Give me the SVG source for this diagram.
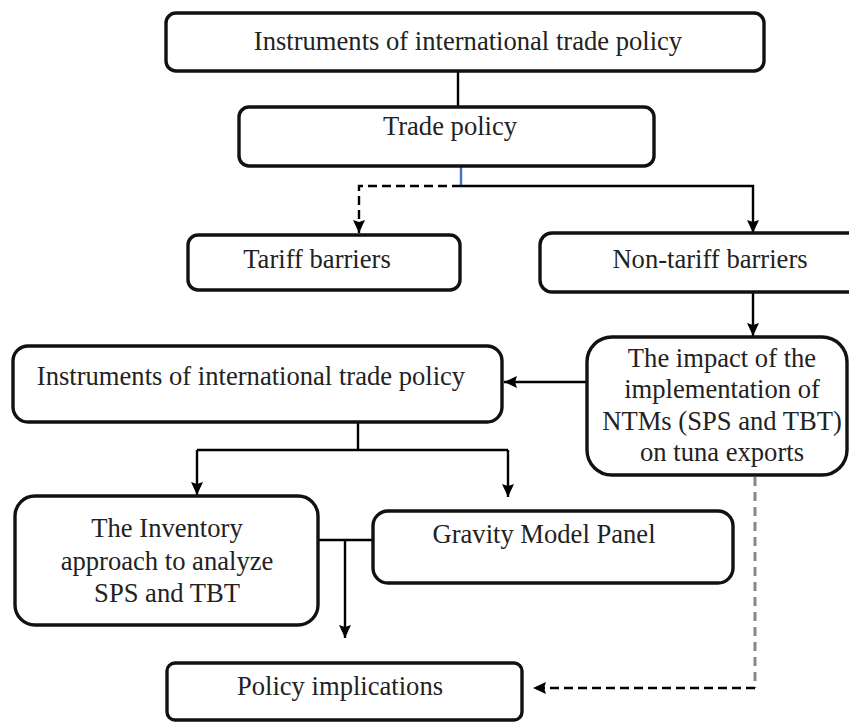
<svg xmlns="http://www.w3.org/2000/svg" width="849" height="722" viewBox="0 0 849 722">
<style>
.box{fill:#fff;stroke:#111;stroke-width:3.4}
.t{font-family:"Liberation Serif","Times New Roman",serif;font-size:26.6px;fill:#222;text-anchor:middle}
.c{fill:none;stroke:#000;stroke-width:2.4}
.d{stroke-dasharray:9 5}
.g{fill:none;stroke:#888;stroke-width:3;stroke-dasharray:9 6}
</style>
<defs>
<marker id="ah" markerUnits="userSpaceOnUse" markerWidth="14" markerHeight="14" refX="13" refY="6.5" orient="auto">
<path d="M0,0.5 L13,6.5 L0,12.5 L2,6.5 z" fill="#000"/>
</marker>
</defs>
<rect width="849" height="722" fill="#fff"/>
<g id="connectors">
<path class="c" d="M458,71 V107"/>
<path d="M461,166 V186" fill="none" stroke="#4472c4" stroke-width="2.4"/>
<path class="c d" d="M461,186 H359 V233" marker-end="url(#ah)"/>
<path class="c" d="M461,186 H753 V233" marker-end="url(#ah)"/>
<path class="c" d="M753,292 V336" marker-end="url(#ah)"/>
<path class="c" d="M587,382 H504" marker-end="url(#ah)"/>
<path class="c" d="M358,422 V450 M197,450 H508"/>
<path class="c" d="M197,450 V495" marker-end="url(#ah)"/>
<path class="c" d="M508,450 V497" marker-end="url(#ah)"/>
<path class="c" d="M318,540 H373"/>
<path class="c" d="M345,540 V638" marker-end="url(#ah)"/>
<path class="g" d="M755,477 V688"/>
<path class="c d" d="M755,688 H533" marker-end="url(#ah)"/>
</g>
<g id="n1"><rect class="box" x="166" y="13" width="598" height="58" rx="10"/><text class="t" x="468" y="50">Instruments of international trade policy</text></g>
<g id="n2"><rect class="box" x="239" y="107" width="415" height="59" rx="10"/><text class="t" x="450" y="135">Trade policy</text></g>
<g id="n3"><rect class="box" x="188" y="235" width="272" height="55" rx="10"/><text class="t" x="317" y="268">Tariff barriers</text></g>
<g id="n4"><rect class="box" x="540" y="233" width="340" height="59" rx="12"/><text class="t" x="710" y="268">Non-tariff barriers</text></g>
<g id="n5"><rect class="box" x="587" y="337" width="260" height="138" rx="25"/>
<text class="t" x="722" y="367">The impact of the</text>
<text class="t" x="722" y="398">implementation of</text>
<text class="t" x="722" y="430">NTMs (SPS and TBT)</text>
<text class="t" x="722" y="461">on tuna exports</text></g>
<g id="n6"><rect class="box" x="13" y="346" width="489" height="76" rx="15"/><text class="t" x="251" y="385">Instruments of international trade policy</text></g>
<g id="n7"><rect class="box" x="15" y="496" width="303" height="129" rx="20"/>
<text class="t" x="167" y="537">The Inventory</text>
<text class="t" x="167" y="570">approach to analyze</text>
<text class="t" x="167" y="602">SPS and TBT</text></g>
<g id="n8"><rect class="box" x="373" y="511" width="360" height="72" rx="15"/><text class="t" x="544" y="543">Gravity Model Panel</text></g>
<g id="n9"><rect class="box" x="167" y="663" width="355" height="57" rx="8"/><text class="t" x="340" y="695">Policy implications</text></g>
</svg>
